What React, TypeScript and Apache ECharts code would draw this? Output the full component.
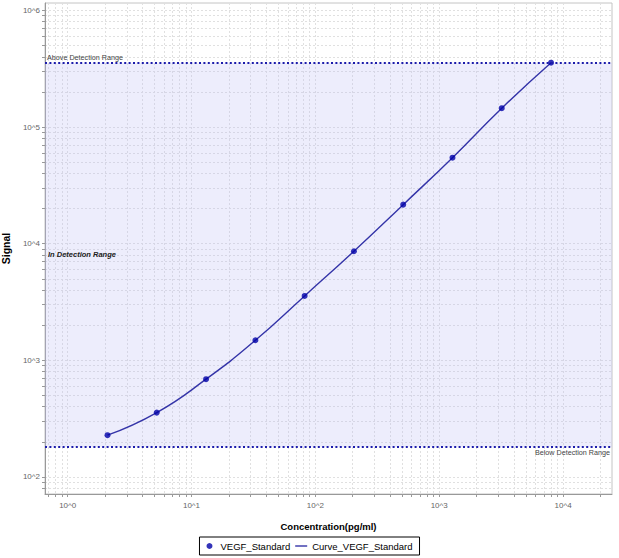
import React, { useEffect, useRef } from 'react';
import * as echarts from 'echarts';

// 标准曲线数据
const CONCENTRATIONS = [2.097, 5.24, 13.1, 32.8, 81.9, 204.8, 512, 1280, 3200, 8000];
const SIGNALS = [228, 356, 689, 1486, 3565, 8610, 21600, 54600, 145000, 356000];

// 检测范围
const LOWER_LIMIT = 181;
const UPPER_LIMIT = 356000;

// 刻度
const X_DECADES = [0.1, 1, 10, 100, 1000, 10000];
const Y_DECADES = [10, 100, 1000, 10000, 100000, 1000000];
const MULTIPLIERS = [1, 2, 3, 4, 5, 6, 7, 8, 9];
const X_LABELS = [1, 10, 100, 1000, 10000];
const Y_LABELS = [100, 1000, 10000, 100000, 1000000];

const X_MIN = 0.656;
const X_MAX = 24850;
const Y_MIN = 71.4;
const Y_MAX = 1157000;

const FONT = "'Liberation Sans', Arial, sans-serif";

const gridValues = (decades: number[], min: number, max: number) =>
  decades
    .flatMap(d => MULTIPLIERS.map(m => +(d * m).toPrecision(6)))
    .filter(v => v >= min && v <= max);

const powLabel = (v: number) => `10^${Math.round(Math.log10(v))}`;

export default function App() {
  const chartRef = useRef<HTMLDivElement>(null);

  useEffect(() => {
    document.body.style.margin = '0';
    if (!chartRef.current) return;
    const chart = echarts.init(chartRef.current, null, { renderer: 'svg' });

    const points = CONCENTRATIONS.map((c, i) => [c, SIGNALS[i]]);
    const splitStyle = { show: true, lineStyle: { color: '#e0e0e0', type: [2, 2], width: 1 } };
    const rangeLabel = { fontFamily: FONT, fontSize: 7.2, color: '#444', distance: 2 };

    chart.setOption({
      animation: false,
      backgroundColor: '#fff',
      textStyle: { fontFamily: FONT },
      grid: {
        left: 45,
        right: 7,
        top: 3,
        bottom: 64,
        containLabel: false,
        outerBoundsMode: 'none',
        show: true,
        borderColor: '#c4c4c4',
        borderWidth: 1,
      },
      legend: {
        left: 'center',
        top: 537,
        padding: [4, 7],
        borderColor: '#000',
        borderWidth: 1,
        itemWidth: 12,
        itemHeight: 6,
        itemGap: 5,
        textStyle: { fontFamily: FONT, fontSize: 9.5, color: '#000' },
        data: [
          { name: 'VEGF_Standard', icon: 'circle' },
          { name: 'Curve_VEGF_Standard', icon: 'path://M0,0h12v1.4h-12z' },
        ],
      },
      xAxis: {
        type: 'log',
        min: X_MIN,
        max: X_MAX,
        name: 'Concentration(pg/ml)',
        nameLocation: 'middle',
        nameGap: 27,
        nameTextStyle: { fontFamily: FONT, fontWeight: 'bold', fontSize: 9.5, color: '#000' },
        axisLine: { show: true, lineStyle: { color: '#999' } },
        axisTick: { show: true, length: 3, lineStyle: { color: '#999' }, customValues: gridValues(X_DECADES, X_MIN, X_MAX) },
        axisLabel: {
          customValues: X_LABELS,
          formatter: powLabel,
          fontSize: 8,
          color: '#666',
          margin: 7,
        },
        splitLine: splitStyle,
      },
      yAxis: {
        type: 'log',
        min: Y_MIN,
        max: Y_MAX,
        name: 'Signal',
        nameLocation: 'middle',
        nameGap: 32,
        nameTextStyle: { fontFamily: FONT, fontWeight: 'bold', fontSize: 10.5, color: '#000' },
        axisLine: { show: true, lineStyle: { color: '#999' } },
        axisTick: { show: true, length: 3, lineStyle: { color: '#999' }, customValues: gridValues(Y_DECADES, Y_MIN, Y_MAX) },
        axisLabel: {
          customValues: Y_LABELS,
          formatter: powLabel,
          fontSize: 8,
          color: '#666',
          margin: 5,
        },
        splitLine: splitStyle,
      },
      series: [
        {
          name: 'Curve_VEGF_Standard',
          type: 'line',
          data: points,
          smooth: true,
          symbol: 'none',
          lineStyle: { color: '#3434a8', width: 1.4 },
          itemStyle: { color: '#3434a8' },
          z: 3,
          markArea: {
            silent: true,
            itemStyle: { color: 'rgba(190,190,245,0.28)' },
            label: {
              show: true,
              position: 'insideLeft',
              distance: 3,
              fontFamily: FONT,
              fontStyle: 'italic',
              fontWeight: 'bold',
              fontSize: 7.5,
              color: '#222',
            },
            data: [[{ name: 'In Detection Range', yAxis: LOWER_LIMIT }, { yAxis: UPPER_LIMIT }]],
          },
          markLine: {
            silent: true,
            symbol: ['none', 'none'],
            lineStyle: { color: '#1c1cab', type: [2, 2.4], width: 2 },
            label: rangeLabel,
            data: [
              {
                yAxis: UPPER_LIMIT,
                label: { ...rangeLabel, formatter: 'Above Detection Range', position: 'insideStartTop' },
              },
              {
                yAxis: LOWER_LIMIT,
                label: { ...rangeLabel, formatter: 'Below Detection Range', position: 'insideEndBottom' },
              },
            ],
          },
        },
        {
          name: 'VEGF_Standard',
          type: 'scatter',
          data: points,
          symbol: 'circle',
          symbolSize: 6,
          itemStyle: { color: '#0000a8' },
          z: 4,
        },
      ],
    });

    return () => {
      chart.dispose();
    };
  }, []);

  return <div ref={chartRef} style={{ width: 619, height: 558 }} />;
}
